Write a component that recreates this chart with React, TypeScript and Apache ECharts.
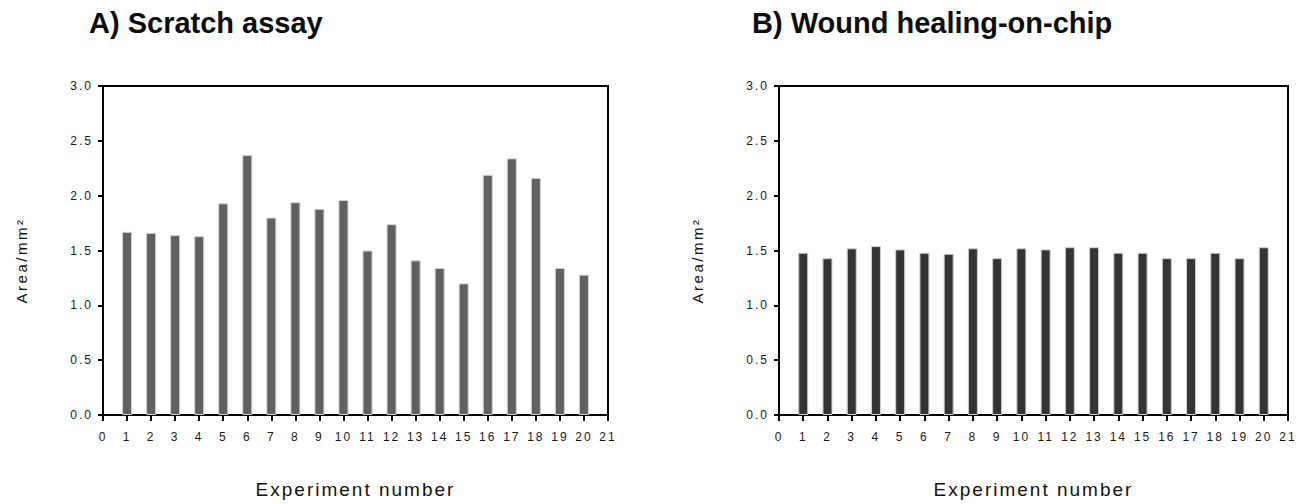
import React, { useEffect, useRef } from "react";
import * as echarts from "echarts";

const experimentNumbers = [1, 2, 3, 4, 5, 6, 7, 8, 9, 10, 11, 12, 13, 14, 15, 16, 17, 18, 19, 20];
const scratchArea = [1.67, 1.66, 1.64, 1.63, 1.93, 2.37, 1.8, 1.94, 1.88, 1.96, 1.5, 1.74, 1.41, 1.34, 1.2, 2.19, 2.34, 2.16, 1.34, 1.28];
const chipArea = [1.48, 1.43, 1.52, 1.54, 1.51, 1.48, 1.47, 1.52, 1.43, 1.52, 1.51, 1.53, 1.53, 1.48, 1.48, 1.43, 1.43, 1.48, 1.43, 1.53];
const panelTitles = ["A) Scratch assay", "B) Wound healing-on-chip"];
const xAxisTitle = "Experiment number";
const yAxisTitle = "Area/mm²";

const TICK_FONT = "Liberation Sans, Arial";
const XNAME_FONT = "Liberation Sans, Helvetica";
const YNAME_FONT = "Liberation Sans, Verdana";

export default function App() {
  const ref = useRef<HTMLDivElement>(null);

  useEffect(() => {
    if (!ref.current) return;
    const chart = echarts.init(ref.current, undefined, { renderer: "svg" });

    const grids = [
      { left: 103, top: 86, width: 505, height: 334 },
      { left: 779, top: 86, width: 509, height: 334 },
    ];
    const seriesData = [scratchArea, chipArea];
    const barColors = ["#606060", "#343434"];
    const titleX = [89, 752];

    const option: any = {
      animation: false,
      backgroundColor: "#ffffff",
      graphic: panelTitles.map((t, i) => ({
        type: "text",
        x: titleX[i],
        y: 8,
        style: {
          text: t,
          fontFamily: "Liberation Sans",
          fontWeight: "bold",
          fontSize: 29,
          fill: "#0d0d0d",
          align: "left",
          verticalAlign: "top",
        },
      })),
      grid: grids.map((g) => ({
        ...g,
        show: true,
        borderColor: "#000000",
        borderWidth: 2,
        backgroundColor: "transparent",
      })),
      xAxis: grids.map((_, i) => ({
        type: "value",
        gridIndex: i,
        min: 0,
        max: 21,
        interval: 1,
        splitLine: { show: false },
        axisLine: { show: true, lineStyle: { color: "#000000", width: 2 } },
        axisTick: { show: true, length: 6, lineStyle: { color: "#000000", width: 2 } },
        axisLabel: { color: "#1a1a1a", fontSize: 12, margin: 16, fontFamily: TICK_FONT },
        name: xAxisTitle,
        nameLocation: "middle",
        nameGap: 65,
        nameTextStyle: {
          color: "#111111",
          fontSize: 19,
          fontFamily: XNAME_FONT,
        },
      })),
      yAxis: grids.map((_, i) => ({
        type: "value",
        gridIndex: i,
        min: 0,
        max: 3,
        interval: 0.5,
        splitLine: { show: false },
        axisLine: { show: true, lineStyle: { color: "#000000", width: 2 } },
        axisTick: { show: true, length: 5, lineStyle: { color: "#000000", width: 2 } },
        axisLabel: {
          color: "#1a1a1a",
          fontSize: 12,
          margin: 10,
          fontFamily: TICK_FONT,
          formatter: (v: number) => v.toFixed(1),
        },
        name: yAxisTitle,
        nameLocation: "middle",
        nameGap: 74,
        nameRotate: 90,
        nameTextStyle: {
          color: "#111111",
          fontSize: 15,
          fontFamily: YNAME_FONT,
          padding: [0, 20, 0, 0],
        },
      })),
      series: seriesData.map((arr, i) => ({
        type: "bar",
        xAxisIndex: i,
        yAxisIndex: i,
        barWidth: 10,
        itemStyle: { color: barColors[i], borderColor: "#cfcfcf", borderWidth: 1 },
        data: experimentNumbers.map((n, k) => [n, arr[k]]),
      })),
    };

    chart.setOption(option);
    return () => chart.dispose();
  }, []);

  return (
    <>
      <style>{`
        #root svg text[style*="Arial"] { letter-spacing: 2px; }
        #root svg text[style*="Helvetica"] { letter-spacing: 2px; }
        #root svg text[style*="Verdana"] { letter-spacing: 2.5px; }
      `}</style>
      <div
        ref={ref}
        style={{ position: "absolute", left: 0, top: 0, width: 1301, height: 504 }}
      />
    </>
  );
}
